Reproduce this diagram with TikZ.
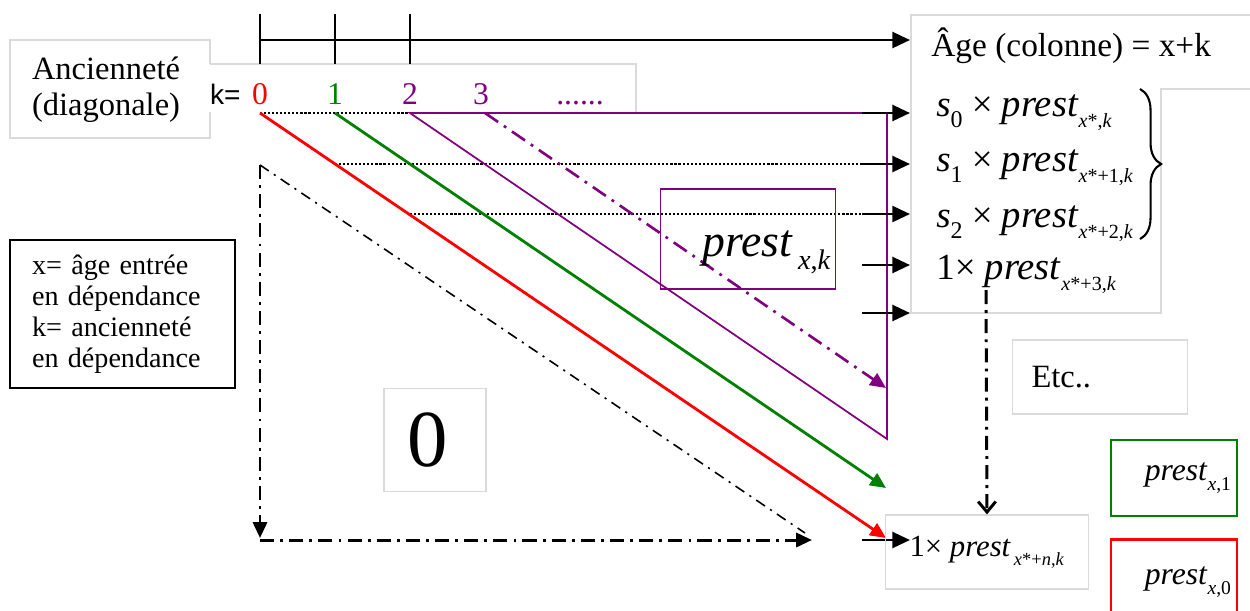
\documentclass[tikz,border=0pt]{standalone}
\usepackage{fontspec}
\setmainfont{Liberation Serif}
\newfontfamily\arialfont{Liberation Sans}
\usetikzlibrary{arrows.meta,decorations.pathreplacing}
\definecolor{vio}{RGB}{128,0,128}
\definecolor{grn}{RGB}{0,128,0}
\definecolor{faint}{RGB}{218,218,218}
\newcommand{\sub}[2][0.65]{\raisebox{-0.3em}{\scalebox{#1}{#2}}}
\newcommand{\prest}[2][0.62]{\textit{prest}\sub[#1]{#2}}
\newcommand{\fs}[1]{\fontsize{#1}{1.1\dimexpr#1pt\relax}\selectfont}

\begin{document}
\begin{tikzpicture}[x=0.02cm, y=-0.02cm, line join=miter,
    tri/.style={-{Triangle[length=9pt,width=8pt]}},
    blk/.style={line width=1.6pt, -{Triangle[length=10pt,width=9pt]}},
    faintbox/.style={draw=faint, line width=0.7pt},
    dotline/.style={line width=1.3pt, dash pattern=on 1.2pt off 1.1pt},
    bigdd/.style={line width=1.7pt, dash pattern=on 8pt off 3.5pt on 1.6pt off 3.5pt},
    thindd/.style={line width=0.9pt, dash pattern=on 6pt off 3.5pt on 1.2pt off 3.5pt},
    viodd/.style={vio, line width=1.5pt, dash pattern=on 9pt off 4pt on 1.6pt off 4pt},
    lbl/.style={inner sep=0pt},
    row/.style={lbl, anchor=base west, font=\fs{21}}]
  \useasboundingbox (0,0) rectangle (1250,610);

  % faint outlines of the text boxes
  \draw[faintbox] (210,64) -- (210,40) -- (10,40) -- (10,138) -- (210,138) -- (210,112);
  \draw[faintbox] (210,64) -- (636,64) -- (636,112);
  \draw[faintbox] (1250,15) -- (911,15) -- (911,313) -- (1161,313) -- (1161,89) -- (1250,89);

  % age axis
  \coordinate (ax0) at (260,40);
  \coordinate (ax1) at (910,40);
  \draw[blk] (ax0) -- (ax1);
  \foreach \x in {260,335,410} \draw[line width=1.3pt] (\x,14) -- (\x,64);

  % seniority row
  \node (anc) [lbl, align=left, font=\fs{18.5}] at (106,90) {Ancienneté\\(diagonale)};
  \node (keq) [lbl, anchor=base east, font=\arialfont\fs{16}] at (241,104) {k=};
  \foreach \k/\x/\c in {0/260/red,1/335/grn,2/410/vio,3/481/vio}
    \node (kl\k) [lbl, anchor=base, text=\c, font=\fs{18}] at (\x,104) {\k};
  \node (kdots) [lbl, anchor=base, text=vio, font=\fs{18}] at (580,104) {......};

  \coordinate (k0) at (260,113);
  \coordinate (k1) at (335,113);
  \coordinate (k2) at (410,113);
  \coordinate (k3) at (485,113);
  \coordinate (pt) at (887,113);
  \coordinate (pb) at (887,439);

  % dotted rows
  \draw[dotline] (k0) -- (k2);
  \coordinate (d1) at (335,164); \coordinate (d1e) at (887,164);
  \coordinate (d2) at (410,214); \coordinate (d2e) at (887,214);
  \draw[dotline] (d1) -- (d1e);
  \draw[dotline] (d2) -- (d2e);

  % diagonals
  \draw[vio, line width=1pt] (k2) -- (pt) -- (pb) -- cycle;
  \draw[viodd, tri] (k3) -- (886,388);
  \draw[grn, line width=1.6pt, tri] (k1) -- (886,488);
  \draw[red, line width=1.6pt, tri] (k0) -- (886,538);

  % zero part
  \coordinate (o) at (260,165);
  \draw[bigdd, tri] (o) -- (260,538);
  \draw[bigdd, tri] (260,540) -- (812,540);
  \draw[thindd] (o) -- (805,533);
  \node (zero) [faintbox, minimum width=2.04cm, minimum height=2.06cm, font=\fs{46}] at (435,440) {\kern-0.28cm0};

  % short arrows to the column
  \foreach \y [count=\i] in {113,164,214,265,313,540} {
    \coordinate (s\i) at (862,\y);
    \coordinate (t\i) at (910,\y);
    \draw[blk] (s\i) -- (t\i);
  }

  % column text
  \node (age) [lbl, anchor=base west, font=\fs{19}] at (931,56) {Âge (colonne) = x+k};
  \node (r0) [row] at (936,116) {\textit{s}\sub{0} × {\fs{22}\prest[0.52]{\textit{x}*,\textit{k}}}};
  \node (r1) [row] at (936,171) {\textit{s}\sub{1} × {\fs{22}\prest[0.52]{\textit{x}*+1,\textit{k}}}};
  \node (r2) [row] at (936,227) {\textit{s}\sub{2} × {\fs{22}\prest[0.52]{\textit{x}*+2,\textit{k}}}};
  \node (r3) [row] at (936,279) {1× {\fs{22}\prest[0.52]{\textit{x}*+3,\textit{k}}}};
  \coordinate (b1) at (1140,89);
  \coordinate (b2) at (1140,239);
  \draw[line width=1.2pt, decorate, decoration={brace, amplitude=12pt}] (b1) -- (b2);

  \node (etc) [faintbox, minimum width=3.5cm, minimum height=1.48cm, text width=2.74cm, align=left, font=\fs{18.5}] at (1100,377) {Etc..};
  \node (nrow) [faintbox, minimum width=4.06cm, minimum height=1.48cm, font=\fs{17.5}] at (987,552)
    {\makebox[3.1cm][l]{1× \prest[0.6]{\,\textit{x}*+\textit{n},\textit{k}}}};
  \coordinate (vt) at (986,290);
  \draw[bigdd, -{Straight Barb[length=6pt,width=10pt]}] (vt) -- (nrow.north);

  % boxed terms
  \node (pxk) [draw=vio, line width=1.1pt, minimum width=3.5cm, minimum height=2cm] at (748,239) {};
  \node (pxkt) [lbl, anchor=base east, font=\fs{26}] at (831,256) {\prest[0.62]{\,\textit{x},\textit{k}}};
  \node (p1) [draw=grn, line width=1.2pt, minimum width=2.52cm, minimum height=1.52cm, text width=2.28cm, align=right, font=\fs{18}] at (1174,478) {\prest{\textit{x},1}};
  \node (p0) [draw=red, line width=1.2pt, minimum width=2.52cm, minimum height=1.7cm, text width=2.28cm, align=right, font=\fs{18}] at (1174,582) {\prest{\textit{x},0}};

  % legend
  \node (legend) [draw, line width=1pt, minimum width=4.5cm, minimum height=2.96cm, text width=3.62cm, inner xsep=0.44cm, align=left, font=\fontsize{16}{17.6}\selectfont] at (122.5,314)
    {x= âge entrée\\en dépendance\\k= ancienneté\\en dépendance};
\end{tikzpicture}
\end{document}
